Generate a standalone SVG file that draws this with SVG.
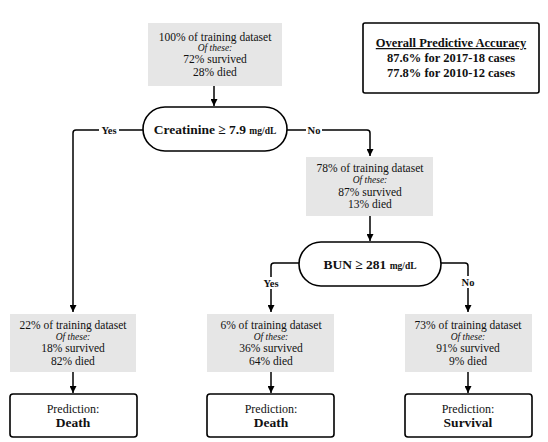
<svg xmlns="http://www.w3.org/2000/svg" width="548" height="442" viewBox="0 0 548 442">
<defs>
<marker id="arr" viewBox="0 0 10 10" refX="10" refY="5" markerWidth="7" markerHeight="7" markerUnits="userSpaceOnUse" orient="auto">
<path d="M0,0 L10,5 L0,10 z" fill="#000"/>
</marker>
</defs>
<style>
text{font-family:"Liberation Serif","DejaVu Serif",serif;fill:#111;text-anchor:middle}
.stat{fill:#e6e6e6;stroke:none}
.n{font-size:11.5px}
.i{font-size:9.5px;font-style:italic}
.pill{fill:#fff;stroke:#000;stroke-width:1.6}
.pred{fill:#fff;stroke:#000;stroke-width:1.6}
.b{font-weight:bold;font-size:13.5px}
.u{font-size:9.5px;font-weight:bold}
.lbl{font-size:10.5px;font-weight:bold}
.p{font-size:12px}
.pb{font-size:13.5px;font-weight:bold}
.acc{font-size:12.5px;font-weight:bold}
#connectors line,#connectors path{stroke:#000;stroke-width:1.5;fill:none}
</style>
<rect width="548" height="442" fill="#fff"/>
<g id="connectors">
<line x1="214" y1="86" x2="214" y2="106" marker-end="url(#arr)"/>
<path d="M143,130 H76 Q73,130 73,133 V312" marker-end="url(#arr)"/>
<path d="M287,130 H367 Q370,130 370,133 V156" marker-end="url(#arr)"/>
<line x1="370" y1="216" x2="370" y2="241" marker-end="url(#arr)"/>
<path d="M299,263 H274 Q271,263 271,266 V312" marker-end="url(#arr)"/>
<path d="M441,263 H465 Q468,263 468,266 V312" marker-end="url(#arr)"/>
<line x1="73" y1="372" x2="73" y2="393" marker-end="url(#arr)"/>
<line x1="271" y1="372" x2="271" y2="393" marker-end="url(#arr)"/>
<line x1="468" y1="372" x2="468" y2="393" marker-end="url(#arr)"/>
<rect x="99" y="124" width="20" height="12" fill="#fff"/>
<text class="lbl" x="109" y="134">Yes</text>
<rect x="306" y="124" width="16" height="12" fill="#fff"/>
<text class="lbl" x="314" y="134">No</text>
<rect x="261" y="277" width="20" height="12" fill="#fff"/>
<text class="lbl" x="271" y="287">Yes</text>
<rect x="460" y="276" width="16" height="12" fill="#fff"/>
<text class="lbl" x="468" y="286">No</text>
</g>
<g id="root">
<rect class="stat" x="148" y="23" width="134" height="63"/>
<text class="n" x="215" y="41">100% of training dataset</text>
<text class="i" x="215" y="51">Of these:</text>
<text class="n" x="215" y="63">72% survived</text>
<text class="n" x="215" y="76">28% died</text>
</g>
<g id="creatinine">
<rect class="pill" x="143" y="107" width="144" height="44" rx="22" ry="22"/>
<text x="215" y="134"><tspan class="b">Creatinine ≥ 7.9 </tspan><tspan class="u">mg/dL</tspan></text>
</g>
<g id="accuracy">
<rect x="363" y="23" width="176" height="70" rx="2" fill="#fff" stroke="#000" stroke-width="1.6"/>
<text class="acc" x="451" y="47" text-decoration="underline">Overall Predictive Accuracy</text>
<text class="acc" x="451" y="62">87.6% for 2017-18 cases</text>
<text class="acc" x="451" y="77">77.8% for 2010-12 cases</text>
</g>
<g id="no-creatinine">
<rect class="stat" x="306" y="157" width="127" height="59"/>
<text class="n" x="370" y="172">78% of training dataset</text>
<text class="i" x="370" y="183">Of these:</text>
<text class="n" x="370" y="196">87% survived</text>
<text class="n" x="370" y="208">13% died</text>
</g>
<g id="bun">
<rect class="pill" x="299" y="242" width="142" height="44" rx="22" ry="22"/>
<text x="370" y="269"><tspan class="b">BUN ≥ 281 </tspan><tspan class="u">mg/dL</tspan></text>
</g>
<g id="leaf1">
<rect class="stat" x="10" y="314" width="126" height="58"/>
<text class="n" x="73" y="329">22% of training dataset</text>
<text class="i" x="73" y="340">Of these:</text>
<text class="n" x="73" y="352">18% survived</text>
<text class="n" x="73" y="365">82% died</text>
</g>
<g id="pred1">
<rect class="pred" x="10" y="394" width="127" height="43" rx="3"/>
<text class="p" x="73" y="413">Prediction:</text>
<text class="pb" x="73" y="427">Death</text>
</g>
<g id="leaf2">
<rect class="stat" x="207" y="314" width="127" height="58"/>
<text class="n" x="271" y="329">6% of training dataset</text>
<text class="i" x="271" y="340">Of these:</text>
<text class="n" x="271" y="352">36% survived</text>
<text class="n" x="271" y="365">64% died</text>
</g>
<g id="pred2">
<rect class="pred" x="207" y="394" width="127" height="43" rx="3"/>
<text class="p" x="271" y="413">Prediction:</text>
<text class="pb" x="271" y="427">Death</text>
</g>
<g id="leaf3">
<rect class="stat" x="405" y="314" width="127" height="58"/>
<text class="n" x="468" y="329">73% of training dataset</text>
<text class="i" x="468" y="340">Of these:</text>
<text class="n" x="468" y="352">91% survived</text>
<text class="n" x="468" y="365">9% died</text>
</g>
<g id="pred3">
<rect class="pred" x="405" y="394" width="127" height="43" rx="3"/>
<text class="p" x="468" y="413">Prediction:</text>
<text class="pb" x="468" y="427">Survival</text>
</g>
</svg>
